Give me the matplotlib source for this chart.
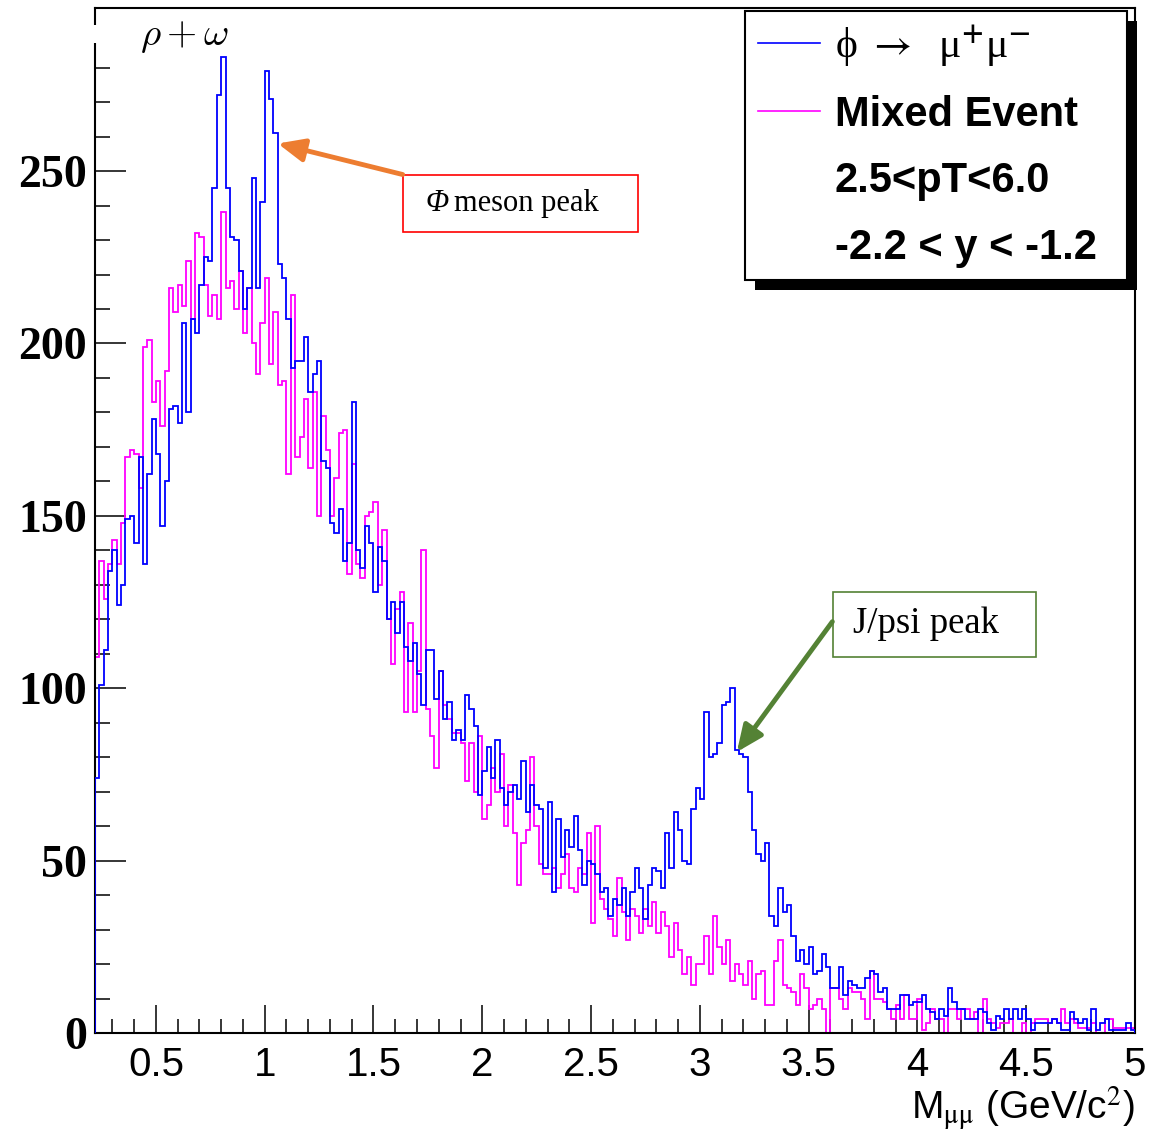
import numpy as np
import matplotlib
matplotlib.use("Agg")
import matplotlib.pyplot as plt
from matplotlib.lines import Line2D
from matplotlib.patches import Rectangle
from matplotlib.ticker import MultipleLocator, FuncFormatter
from matplotlib.font_manager import FontProperties

# ---------------- data ----------------
bin_start = 0.22
bin_width = 0.02
n_bins = 239
edges = np.round(bin_start + bin_width * np.arange(n_bins + 1), 4)

phi_mumu = (
    [74, 101, 111, 134, 140, 124, 130, 149, 150, 142, 167, 136, 162, 178, 168, 147, 160, 181, 182, 177, 206, 180, 207, 203, 217]
    + [225, 224, 245, 272, 283, 245, 231, 230, 221, 210, 216, 248, 216, 241, 279, 271, 261, 223, 219, 207, 193, 195, 195, 202, 186]
    + [191, 195, 166, 164, 148, 145, 152, 137, 142, 183, 140, 135, 147, 142, 128, 141, 137, 120, 125, 116, 125, 112, 108, 113, 104]
    + [95, 111, 111, 97, 105, 91, 96, 85, 88, 85, 98, 94, 89, 69, 76, 83, 74, 85, 71, 66, 70, 72, 68, 79, 64]
    + [72, 66, 65, 48, 67, 41, 62, 51, 59, 54, 63, 53, 43, 50, 49, 46, 41, 42, 34, 39, 37, 42, 34, 41, 48]
    + [42, 33, 43, 48, 47, 42, 58, 48, 64, 59, 50, 49, 65, 71, 68, 93, 80, 81, 84, 95, 96, 100, 82, 81, 80]
    + [70, 59, 52, 50, 55, 34, 31, 42, 35, 37, 28, 21, 24, 20, 25, 17, 18, 23, 19, 13, 13, 19, 11, 15, 14]
    + [13, 13, 16, 18, 17, 12, 13, 7, 7, 7, 11, 11, 8, 9, 9, 11, 7, 6, 4, 7, 5, 13, 9, 7, 7, 4, 4, 4, 7, 6, 3, 1]
    + [5, 4, 7, 4, 7, 4, 7, 4, 1, 3, 3, 3, 3, 4, 3, 1, 1, 6, 4, 3, 4, 1, 7, 1, 3, 4, 1, 1, 1, 1, 3, 1]
)

mixed_event = (
    [109, 137, 126, 136, 143, 136, 148, 167, 169, 168, 158, 199, 201, 183, 189, 176, 192, 216, 209, 217, 211, 224, 207, 232, 231]
    + [217, 208, 214, 207, 238, 216, 218, 210, 221, 203, 216, 200, 191, 206, 219, 194, 209, 188, 189, 162, 214, 167, 173, 184, 164]
    + [186, 150, 179, 169, 150, 161, 174, 175, 133, 165, 136, 132, 150, 151, 154, 130, 146, 120, 107, 123, 128, 93, 119, 93, 105]
    + [140, 94, 86, 77, 105, 95, 91, 87, 87, 84, 73, 84, 70, 86, 62, 66, 77, 70, 81, 60, 72, 58, 43, 55, 59]
    + [80, 60, 49, 46, 46, 48, 42, 46, 52, 42, 41, 48, 46, 58, 32, 60, 39, 36, 33, 28, 45, 35, 27, 36, 34]
    + [29, 36, 31, 38, 29, 35, 31, 22, 32, 24, 17, 22, 14, 20, 20, 28, 17, 34, 25, 20, 27, 15, 20, 17, 14]
    + [21, 10, 17, 18, 8, 8, 21, 27, 14, 13, 12, 8, 17, 13, 7, 8, 10, 7, 0, 13, 13, 10, 7, 13, 12]
    + [12, 10, 4, 18, 10, 10, 9, 7, 4, 8, 4, 11, 4, 4, 10, 1, 3, 7, 4, 4, 0, 7, 7, 4, 7, 7, 4, 6, 0, 10, 4, 3]
    + [1.4, 2.8, 2.8, 4.2, 0, 0, 2.8, 0, 2.8, 4.2, 4.2, 4.2, 2.8, 4.2, 2.8, 7, 2.8, 4.2, 2.8, 1.4, 1.4, 1.4, 2.8, 0, 0, 4.2, 4.2, 1.4, 1.4, 1.4, 1.4, 1.4]
)

legend_labels = ["\u03d5 $\\rightarrow$  \u03bc$^{\\mathbf{+}}$\u03bc$^{\\mathbf{-}}$", "Mixed Event",
                 "2.5<pT<6.0", "-2.2 < y < -1.2"]
x_label = r"M$_{\mathrm{\mu\mu}}$ (GeV/c$^{\mathrm{2}}$)"

# ---------------- figure ----------------
W, H = 1150, 1132
fig = plt.figure(figsize=(W / 100, H / 100), dpi=100)
ax = fig.add_axes([95 / W, 1 - 1033 / H, (1135 - 95) / W, (1033 - 8) / H])

ax.stairs(phi_mumu, edges, color="#0000ff", lw=1.3, baseline=0, zorder=3)
ax.stairs(mixed_event, edges, color="#ff00ff", lw=1.3, baseline=0, zorder=2)

ax.set_xlim(0.22, 5.0)
ax.set_ylim(0, 297.3)

ax.xaxis.set_major_locator(MultipleLocator(0.5))
ax.xaxis.set_minor_locator(MultipleLocator(0.1))
ax.yaxis.set_major_locator(MultipleLocator(50))
ax.yaxis.set_minor_locator(MultipleLocator(10))
ax.xaxis.set_major_formatter(FuncFormatter(lambda v, p: "%g" % v))
ax.yaxis.set_major_formatter(FuncFormatter(lambda v, p: "%d" % v))

ax.tick_params(which="both", direction="in", top=False, right=False)
ax.tick_params(axis="y", which="major", length=22, width=1.1, pad=6)
ax.tick_params(axis="y", which="minor", length=11, width=1.1)
ax.tick_params(axis="x", which="major", length=20, width=1.1, pad=9)
ax.tick_params(axis="x", which="minor", length=10, width=1.1)

for lab in ax.get_xticklabels():
    lab.set_fontfamily("Liberation Sans")
    lab.set_fontsize(29)
for lab in ax.get_yticklabels():
    lab.set_fontfamily("Liberation Serif")
    lab.set_fontweight("bold")
    lab.set_fontsize(33)

for s in ax.spines.values():
    s.set_linewidth(1.5)

ax.set_xlabel(x_label, loc="right", fontsize=28, fontfamily="Liberation Sans", labelpad=1)
ax.xaxis.label.set_math_fontfamily("stix")

# rho + omega label (a white patch interrupts the axis line as in the original)
ax.add_patch(Rectangle((-0.01, 1 - (43 - 8) / 1025), 0.03, 18 / 1025, transform=ax.transAxes,
                       facecolor="white", edgecolor="none", clip_on=False, zorder=10))
ax.text(0.425, 286.5, r"$\rho + \omega$", fontsize=28, math_fontfamily="cm", va="baseline", ha="left")

# ---------------- legend ----------------
handles = [Line2D([], [], color="#0000ff", lw=1.2),
           Line2D([], [], color="#ff00ff", lw=1.2),
           Line2D([], [], color="none"),
           Line2D([], [], color="none")]
leg = ax.legend(handles, legend_labels, loc="upper left",
                bbox_to_anchor=(745 / W, 1 - 280 / H, 382 / W, 269 / H), mode="expand",
                bbox_transform=fig.transFigure,
                borderaxespad=0, frameon=True, fancybox=False, edgecolor="black",
                framealpha=1, prop=FontProperties(family="Liberation Sans", weight="bold", size=30),
                handlelength=1.5, handletextpad=0.36, borderpad=0.3, labelspacing=0.635)
leg.get_frame().set_linewidth(1.5)
t0 = leg.get_texts()[0]
t0.set_fontfamily(["Liberation Serif", "DejaVu Serif"])
t0.set_fontweight("normal")
t0.set_math_fontfamily("stix")

fig.canvas.draw()
bb = leg.get_window_extent()
inv = ax.transAxes.inverted()
(x0, y0) = inv.transform((bb.x0 + 10, bb.y0 - 10))
(x1, y1) = inv.transform((bb.x1 + 10, bb.y1 - 10))
ax.add_patch(Rectangle((x0, y0), x1 - x0, y1 - y0, transform=ax.transAxes,
                       facecolor="black", edgecolor="none", clip_on=False,
                       zorder=leg.get_zorder() - 0.1))

# ---------------- annotations ----------------
ax.add_patch(Rectangle((1.634, 232.3), 2.715 - 1.634, 249 - 232.3, fill=False,
                       edgecolor="#ff0000", lw=1.2, zorder=6))
ax.text(1.738, 240.6, "\u03a6", fontsize=22, fontfamily="Liberation Serif", fontstyle="italic",
        ha="left", va="center", zorder=6)
ax.text(1.872, 240.6, "meson peak", fontsize=22, fontfamily="Liberation Serif",
        ha="left", va="center", zorder=6)
ax.annotate("", xy=(1.06, 258), xytext=(1.634, 249),
            arrowprops=dict(arrowstyle="-|>,head_length=0.8,head_width=0.35", color="#ED7D31",
                            lw=3.5, mutation_scale=20, shrinkA=0, shrinkB=0), zorder=6)

ax.add_patch(Rectangle((3.611, 109.0), 4.545 - 3.611, 127.9 - 109.0, fill=False,
                       edgecolor="#548235", lw=1.2, zorder=6))
ax.text(4.04, 118.6, "J/psi peak", fontsize=26.5, fontfamily="Liberation Serif",
        ha="center", va="center", zorder=6)
ax.annotate("", xy=(3.17, 81.5), xytext=(3.609, 119.3),
            arrowprops=dict(arrowstyle="-|>,head_length=0.8,head_width=0.35", color="#548235",
                            lw=3.5, mutation_scale=20, shrinkA=0, shrinkB=0), zorder=6)

fig.savefig("out.png", dpi=100)
